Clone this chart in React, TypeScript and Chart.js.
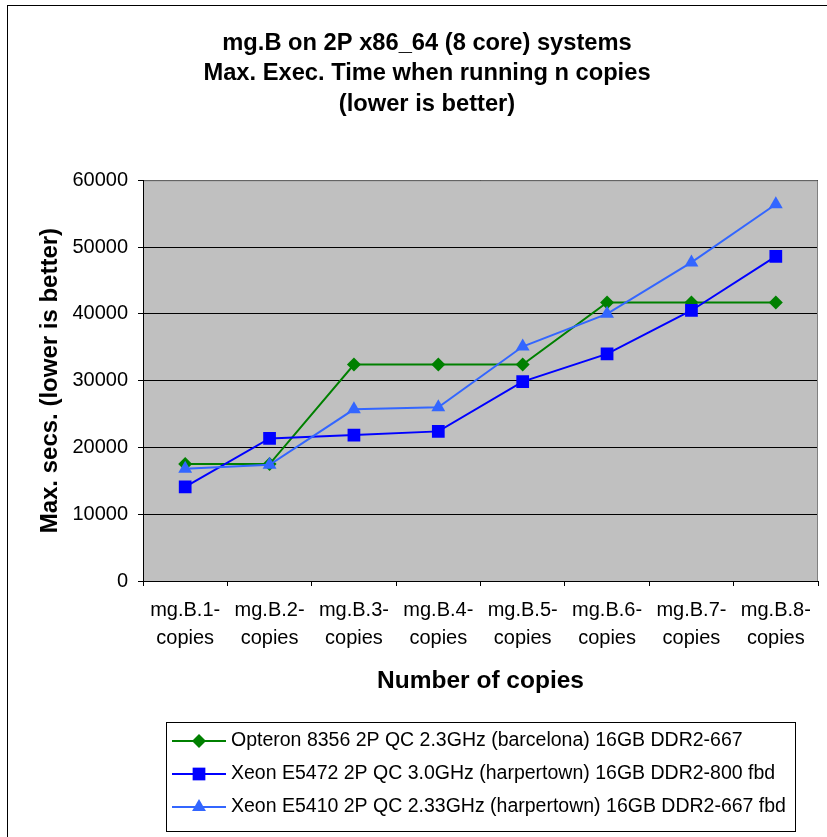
import React, { useEffect, useRef } from 'react';
import { Chart, registerables } from 'chart.js';

Chart.register(...registerables);

const categories = [
  'mg.B.1-copies',
  'mg.B.2-copies',
  'mg.B.3-copies',
  'mg.B.4-copies',
  'mg.B.5-copies',
  'mg.B.6-copies',
  'mg.B.7-copies',
  'mg.B.8-copies',
];

const opteron8356 = [17500, 17500, 32400, 32400, 32400, 41700, 41700, 41700];
const xeonE5472 = [14100, 21350, 21850, 22400, 29850, 34000, 40500, 48600];
const xeonE5410 = [16800, 17400, 25700, 26000, 35100, 40000, 47700, 56400];

const seriesNames = [
  'Opteron 8356 2P QC 2.3GHz (barcelona) 16GB DDR2-667',
  'Xeon E5472 2P QC 3.0GHz (harpertown) 16GB DDR2-800 fbd',
  'Xeon E5410 2P QC 2.33GHz (harpertown) 16GB DDR2-667 fbd',
];

const titleLines = [
  'mg.B on 2P x86_64 (8 core) systems',
  'Max. Exec. Time when running n copies',
  '(lower is better)',
];
const xAxisTitle = 'Number of copies';
const yAxisTitle = 'Max. secs. (lower is better)';
const yMin = 0;
const yMax = 60000;
const yStep = 10000;

const FONT = "'Liberation Sans', Arial, Helvetica, sans-serif";
const colors = ['#008000', '#0000FF', '#3366FF'];
const markers = ['rectRot', 'rect', 'triangle'];
const markerRadius = [7, 9, 8];

function drawMarker(ctx: CanvasRenderingContext2D, style: string, x: number, y: number, r: number, color: string) {
  ctx.save();
  ctx.fillStyle = color;
  ctx.beginPath();
  if (style === 'rectRot') {
    ctx.moveTo(x, y - r);
    ctx.lineTo(x + r, y);
    ctx.lineTo(x, y + r);
    ctx.lineTo(x - r, y);
  } else if (style === 'rect') {
    const s = Math.SQRT1_2 * r;
    ctx.rect(x - s, y - s, 2 * s, 2 * s);
  } else {
    ctx.moveTo(x, y - r);
    ctx.lineTo(x + r * Math.sin((2 * Math.PI) / 3), y - r * Math.cos((2 * Math.PI) / 3));
    ctx.lineTo(x - r * Math.sin((2 * Math.PI) / 3), y - r * Math.cos((2 * Math.PI) / 3));
  }
  ctx.closePath();
  ctx.fill();
  ctx.restore();
}

export default function App() {
  const ref = useRef<HTMLCanvasElement>(null);

  useEffect(() => {
    const canvas = ref.current;
    if (!canvas) return;

    const framePlugin = {
      id: 'frame',
      beforeDraw(chart: any) {
        const { ctx, chartArea: a } = chart;
        ctx.save();
        ctx.fillStyle = '#FFFFFF';
        ctx.fillRect(0, 0, chart.width, chart.height);
        ctx.strokeStyle = '#000000';
        ctx.lineWidth = 1;
        ctx.strokeRect(7.5, 5.5, chart.width + 10, chart.height + 10);
        ctx.fillStyle = '#C0C0C0';
        ctx.fillRect(a.left, a.top, a.right - a.left, a.bottom - a.top);
        ctx.restore();
      },
      beforeDatasetsDraw(chart: any) {
        const { ctx, chartArea: a } = chart;
        ctx.save();
        ctx.strokeStyle = '#808080';
        ctx.lineWidth = 1;
        ctx.beginPath();
        ctx.moveTo(a.left + 1, a.top + 0.5);
        ctx.lineTo(a.right - 0.5, a.top + 0.5);
        ctx.lineTo(a.right - 0.5, a.bottom);
        ctx.stroke();
        ctx.restore();
      },
      afterDraw(chart: any) {
        const { ctx } = chart;
        const boxLeft = 166.5;
        const boxTop = 722.5;
        const boxW = 629;
        const boxH = 109;
        ctx.save();
        ctx.fillStyle = '#FFFFFF';
        ctx.fillRect(boxLeft, boxTop, boxW, boxH);
        ctx.strokeStyle = '#000000';
        ctx.lineWidth = 1;
        ctx.strokeRect(boxLeft, boxTop, boxW, boxH);
        ctx.font = `19.5px ${FONT}`;
        ctx.textBaseline = 'middle';
        ctx.textAlign = 'left';
        chart.data.datasets.forEach((ds: any, i: number) => {
          const y = boxTop + 18.5 + i * 33;
          ctx.strokeStyle = colors[i];
          ctx.lineWidth = 2;
          ctx.beginPath();
          ctx.moveTo(172, y);
          ctx.lineTo(226, y);
          ctx.stroke();
          drawMarker(ctx, markers[i], 199, y, markerRadius[i], colors[i]);
          ctx.fillStyle = '#000000';
          ctx.fillText(ds.label, 231, y);
        });
        ctx.restore();
      },
    };

    const makeDataset = (label: string, data: number[], i: number) => ({
      label,
      data,
      borderColor: colors[i],
      backgroundColor: colors[i],
      borderWidth: 2,
      pointStyle: markers[i],
      pointRadius: markerRadius[i],
      pointHoverRadius: markerRadius[i],
      pointBorderWidth: 0,
      pointBackgroundColor: colors[i],
      pointBorderColor: colors[i],
      tension: 0,
      fill: false,
      order: 3 - i,
    });

    const chart = new Chart(canvas, {
      type: 'line',
      data: {
        labels: categories,
        datasets: [
          makeDataset(seriesNames[0], opteron8356, 0),
          makeDataset(seriesNames[1], xeonE5472, 1),
          makeDataset(seriesNames[2], xeonE5410, 2),
        ],
      },
      plugins: [framePlugin],
      options: {
        animation: false,
        responsive: false,
        maintainAspectRatio: false,
        devicePixelRatio: 1,
        layout: { padding: { left: 34, right: 7, top: 0, bottom: 137 } },
        plugins: {
          legend: { display: false },
          tooltip: { enabled: false },
          title: {
            display: true,
            text: titleLines,
            color: '#000000',
            font: { family: FONT, size: 23.7, weight: 'bold', lineHeight: 1.29 },
            padding: { top: 28, bottom: 60.5 },
          },
        },
        scales: {
          x: {
            type: 'category',
            offset: true,
            afterFit(scale: any) {
              scale.height = 119;
            },
            grid: {
              display: true,
              offset: true,
              drawOnChartArea: false,
              drawTicks: true,
              tickLength: 5,
              color: '#000000',
            },
            border: { display: true, color: '#000000', width: 1 },
            ticks: {
              autoSkip: false,
              maxRotation: 0,
              minRotation: 0,
              padding: 10,
              color: '#000000',
              font: { family: FONT, size: 20, lineHeight: 1.4 },
              callback(_v: any, i: number) {
                const s = categories[i];
                const k = s.indexOf('-') + 1;
                return [s.slice(0, k), s.slice(k)];
              },
            },
            title: {
              display: true,
              text: xAxisTitle,
              color: '#000000',
              font: { family: FONT, size: 24.5, weight: 'bold', lineHeight: 1.2 },
              padding: { top: 0, bottom: 4 },
            },
          },
          y: {
            min: yMin,
            max: yMax,
            afterFit(scale: any) {
              scale.width = 109;
            },
            grid: {
              display: true,
              drawOnChartArea: true,
              drawTicks: true,
              tickLength: 5,
              color: '#000000',
              lineWidth: 1,
            },
            border: { display: true, color: '#000000', width: 1 },
            ticks: {
              stepSize: yStep,
              padding: 10,
              color: '#000000',
              font: { family: FONT, size: 20 },
              callback: (v: any) => String(v),
            },
            title: {
              display: true,
              text: yAxisTitle,
              color: '#000000',
              font: { family: FONT, size: 24, weight: 'bold', lineHeight: 1.2 },
              padding: { top: 1.5, bottom: 0 },
            },
          },
        },
      },
    } as any);

    return () => chart.destroy();
  }, []);

  return (
    <div style={{ position: 'fixed', left: 0, top: 0, width: 827, height: 837, background: '#fff' }}>
      <canvas ref={ref} width={827} height={837} style={{ display: 'block', width: 827, height: 837 }} />
    </div>
  );
}
